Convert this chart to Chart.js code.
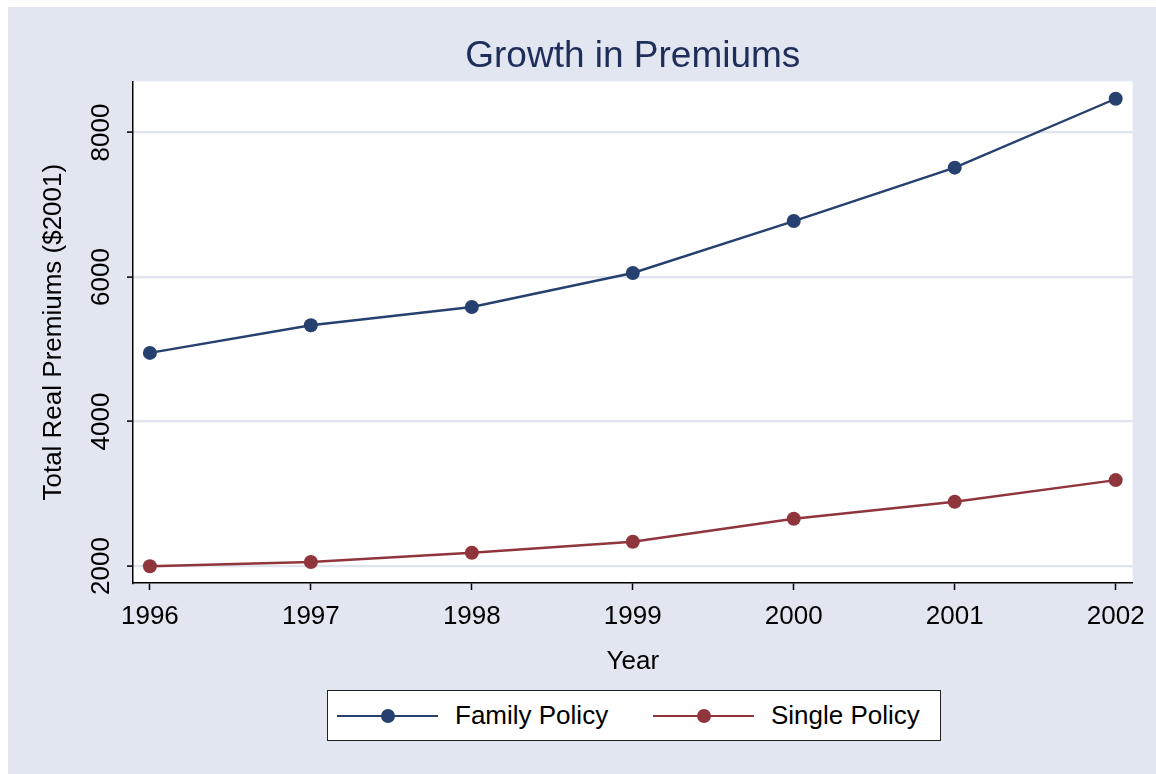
<!DOCTYPE html>
<html lang="en">
<head>
<meta charset="UTF-8" />
<title>Growth in Premiums</title>
<script src="https://cdn.jsdelivr.net/npm/chart.js"></script>
<style>
  html, body { margin: 0; padding: 0; background: #fff; }
  #wrap { position: relative; width: 1156px; height: 774px; }
  canvas { display: block; }
  #legend {
    position: absolute; left: 327px; top: 690px; width: 614px; height: 51px;
    box-sizing: border-box; border: 1px solid #222; background: #fff;
    font-family: "Liberation Sans", Arial, sans-serif; font-size: 26px; color: #000;
  }
  .item { position: absolute; top: 0; height: 49px; display: flex; align-items: center; white-space: nowrap; }
  .item svg { margin-right: 17px; }
</style>
</head>
<body>
<div id="wrap">
  <canvas id="chart" width="1156" height="774"></canvas>
  <div id="legend"></div>
</div>
<script>
const years = [1996, 1997, 1998, 1999, 2000, 2001, 2002];
const familyPolicy = [4950, 5333, 5586, 6056, 6775, 7514, 8468];
const singlePolicy = [1996, 2055, 2184, 2336, 2654, 2889, 3189];
const yTicks = [2000, 4000, 6000, 8000];

const NAVY = '#26406f';
const MAROON = '#90353b';
const BG = '#e1e6f0';
const FONT = '"Liberation Sans", Arial, sans-serif';

const toPoints = vals => years.map((x, i) => ({ x: x, y: vals[i] }));

// stata-ish backdrop: outer bluish frame, white plot region
const backdrop = {
  id: 'backdrop',
  beforeDraw(chart) {
    const { ctx, chartArea: a } = chart;
    ctx.save();
    ctx.fillStyle = '#fff';
    ctx.fillRect(0, 0, chart.width, chart.height);
    ctx.fillStyle = BG;
    ctx.fillRect(8, 7, chart.width - 8, chart.height - 7);
    ctx.fillStyle = '#fff';
    ctx.fillRect(a.left, a.top, a.right - a.left, a.bottom - a.top);
    ctx.restore();
  }
};

const chart = new Chart(document.getElementById('chart'), {
  type: 'line',
  data: {
    datasets: [
      { label: 'Family Policy', data: toPoints(familyPolicy), borderColor: NAVY, backgroundColor: NAVY,
        pointBackgroundColor: NAVY, borderWidth: 2.4, pointRadius: 7, pointBorderWidth: 0, tension: 0 },
      { label: 'Single Policy', data: toPoints(singlePolicy), borderColor: MAROON, backgroundColor: MAROON,
        pointBackgroundColor: MAROON, borderWidth: 2.4, pointRadius: 7, pointBorderWidth: 0, tension: 0 }
    ]
  },
  options: {
    responsive: false,
    animation: false,
    layout: { padding: { top: 0, right: 22, bottom: 91, left: 0 } },
    plugins: {
      legend: { display: false },
      tooltip: { enabled: false },
      title: {
        display: true, text: 'Growth in Premiums', fullSize: false,
        color: '#1e2d5a', font: { family: FONT, size: 37, weight: 'normal' },
        padding: { top: 35, bottom: 2 }
      }
    },
    scales: {
      x: {
        type: 'linear', min: 1995.895, max: 2002.105,
        afterBuildTicks: s => { s.ticks = years.map(v => ({ value: v })); },
        afterFit: s => { s.height = 100; },
        grid: { drawOnChartArea: false, tickLength: 7, tickColor: '#000', tickWidth: 1.5 },
        border: { color: '#000', width: 1.5 },
        ticks: { color: '#000', font: { family: FONT, size: 26 }, padding: 11, maxRotation: 0, autoSkip: false,
                 callback: v => String(v) },
        title: { display: true, text: 'Year', color: '#000', font: { family: FONT, size: 26 },
                 padding: { top: 0, bottom: 6 } }
      },
      y: {
        min: 1765, max: 8708,
        afterBuildTicks: s => { s.ticks = yTicks.map(v => ({ value: v })); },
        afterFit: s => { s.width = 133; },
        grid: { color: '#dfe4ee', lineWidth: 2.2, tickLength: 6, tickColor: '#000', tickWidth: 1.5 },
        border: { color: '#000', width: 1.5 },
        ticks: { color: '#000', font: { family: FONT, size: 26 }, minRotation: 90, maxRotation: 90,
                 crossAlign: 'center', padding: -4, callback: v => String(v) },
        title: { display: true, text: 'Total Real Premiums ($2001)', color: '#000',
                 font: { family: FONT, size: 26 }, padding: { top: 38, bottom: 0 } }
      }
    }
  },
  plugins: [backdrop]
});

// legend box below the plot, line + marker samples like the original
const legendEl = document.getElementById('legend');
const itemLeft = [9, 325];
chart.data.datasets.forEach((ds, i) => {
  const item = document.createElement('div');
  item.className = 'item';
  item.style.left = itemLeft[i] + 'px';
  item.innerHTML =
    '<svg width="101" height="20"><line x1="0" y1="10" x2="101" y2="10" stroke="' + ds.borderColor +
    '" stroke-width="2.2"/><circle cx="51" cy="10" r="7" fill="' + ds.borderColor + '"/></svg>' +
    '<span>' + ds.label + '</span>';
  legendEl.appendChild(item);
});
</script>
</body>
</html>
